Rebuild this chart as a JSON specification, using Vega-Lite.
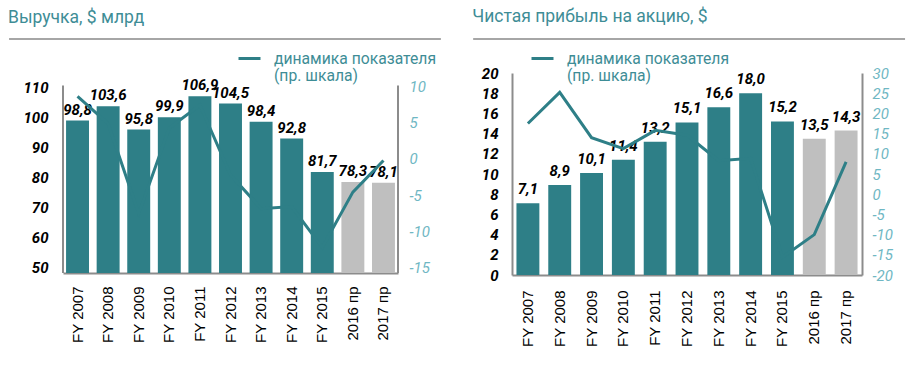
{
  "$schema": "https://vega.github.io/schema/vega-lite/v6.json",
  "padding": {"left": 8, "top": 8, "right": 9, "bottom": 0},
  "config": {
    "locale": {"number": {"decimal": ",", "thousands": " ", "grouping": [3], "currency": ["", ""], "minus": "-"}},
    "view": {"stroke": null},
    "font": "Roboto",
    "concat": {"spacing": 30},
    "axis": {"grid": false, "ticks": false, "tickSize": 0, "domainColor": "#8c8c8c", "domainWidth": 2, "labelOverlap": false}
  },
  "resolve": {"scale": {"stroke": "independent"}, "legend": {"stroke": "independent"}},
  "datasets": {
    "rev": [
      {"year": "FY 2007", "value": 98.8, "growth": 8.7, "kind": "факт", "s": "динамика"},
      {"year": "FY 2008", "value": 103.6, "growth": 4.9, "kind": "факт", "s": "динамика"},
      {"year": "FY 2009", "value": 95.8, "growth": -7.6, "kind": "факт", "s": "динамика"},
      {"year": "FY 2010", "value": 99.9, "growth": 4.3, "kind": "факт", "s": "динамика"},
      {"year": "FY 2011", "value": 106.9, "growth": 7.5, "kind": "факт", "s": "динамика"},
      {"year": "FY 2012", "value": 104.5, "growth": -2.2, "kind": "факт", "s": "динамика"},
      {"year": "FY 2013", "value": 98.4, "growth": -6.9, "kind": "факт", "s": "динамика"},
      {"year": "FY 2014", "value": 92.8, "growth": -6.6, "kind": "факт", "s": "динамика"},
      {"year": "FY 2015", "value": 81.7, "growth": -12.3, "kind": "факт", "s": "динамика"},
      {"year": "2016 пр", "value": 78.3, "growth": -4.6, "kind": "прогноз", "s": "динамика"},
      {"year": "2017 пр", "value": 78.1, "growth": -0.2, "kind": "прогноз", "s": "динамика"}
    ],
    "eps": [
      {"year": "FY 2007", "value": 7.1, "growth": 17.5, "kind": "факт", "s": "динамика"},
      {"year": "FY 2008", "value": 8.9, "growth": 25.2, "kind": "факт", "s": "динамика"},
      {"year": "FY 2009", "value": 10.1, "growth": 14.0, "kind": "факт", "s": "динамика"},
      {"year": "FY 2010", "value": 11.4, "growth": 11.3, "kind": "факт", "s": "динамика"},
      {"year": "FY 2011", "value": 13.2, "growth": 15.8, "kind": "факт", "s": "динамика"},
      {"year": "FY 2012", "value": 15.1, "growth": 14.6, "kind": "факт", "s": "динамика"},
      {"year": "FY 2013", "value": 16.6, "growth": 8.3, "kind": "факт", "s": "динамика"},
      {"year": "FY 2014", "value": 18.0, "growth": 8.9, "kind": "факт", "s": "динамика"},
      {"year": "FY 2015", "value": 15.2, "growth": -15.6, "kind": "факт", "s": "динамика"},
      {"year": "2016 пр", "value": 13.5, "growth": -10.0, "kind": "прогноз", "s": "динамика"},
      {"year": "2017 пр", "value": 14.3, "growth": 8.0, "kind": "прогноз", "s": "динамика"}
    ]
  },
  "hconcat": [
    {
      "width": 335, "height": 200,
      "title": {"text": "Выручка, $ млрд", "anchor": "start", "frame": "bounds", "fontSize": 17.5, "font": "Roboto", "fontWeight": "normal", "color": "#3e8d96", "offset": 12},
      "layer": [
        {
          "layer": [
            {
              "data": {"values": [{"a": -0.161, "b": 1.128, "h": 126}]},
              "mark": {"type": "rule", "color": "#a6a6a6", "strokeWidth": 2},
              "encoding": {
                "x": {"field": "a", "type": "quantitative", "scale": {"domain": [0, 1], "nice": false, "zero": false}, "axis": null},
                "x2": {"field": "b"},
                "y": {"field": "h", "type": "quantitative", "scale": {"domain": [48, 114.667], "nice": false, "zero": false}, "axis": null}
              }
            },
            {
              "data": {"values": [{"a": 0, "lo": 48, "hi": 110.5}, {"a": 1, "lo": 48, "hi": 110.5}]},
              "mark": {"type": "rule", "color": "#8c8c8c", "strokeWidth": 2},
              "encoding": {
                "x": {"field": "a", "type": "quantitative", "axis": null},
                "y": {"field": "lo", "type": "quantitative", "axis": null},
                "y2": {"field": "hi"}
              }
            }
          ]
        },
        {
          "data": {"name": "rev"},
          "layer": [
            {
              "layer": [
                {
                  "mark": {"type": "bar", "clip": true},
                  "encoding": {
                    "x": {"field": "year", "type": "nominal", "sort": null, "scale": {"paddingInner": 0.25, "paddingOuter": 0.1}, "axis": {"orient": "bottom", "title": null, "labelAngle": -90, "labelFont": "Liberation Sans", "labelFontSize": 15, "labelColor": "#000", "labelPadding": 13}},
                    "y": {"field": "value", "type": "quantitative", "scale": {"domain": [48, 114.667], "nice": false, "zero": false}, "axis": {"orient": "left", "title": null, "domain": false, "labelOverlap": false, "values": [50, 60, 70, 80, 90, 100, 110], "labelFont": "Roboto", "labelFontSize": 15, "labelFontStyle": "italic", "labelFontWeight": "bold", "labelColor": "#000", "labelPadding": 15}},
                    "fill": {"field": "kind", "type": "nominal", "scale": {"domain": ["факт", "прогноз"], "range": ["#2e7f87", "#bfbfbf"]}, "legend": null}
                  }
                },
                {
                  "mark": {"type": "text", "baseline": "alphabetic", "dy": -6, "fontSize": 15, "fontStyle": "italic", "fontWeight": "bold", "color": "#000", "font": "Roboto"},
                  "encoding": {
                    "x": {"field": "year", "type": "nominal", "sort": null, "axis": {"orient": "bottom", "title": null, "labelAngle": -90, "labelFont": "Liberation Sans", "labelFontSize": 15, "labelColor": "#000", "labelPadding": 13}},
                    "y": {"field": "value", "type": "quantitative", "axis": {"orient": "left", "title": null, "domain": false, "labelOverlap": false, "values": [50, 60, 70, 80, 90, 100, 110], "labelFont": "Roboto", "labelFontSize": 15, "labelFontStyle": "italic", "labelFontWeight": "bold", "labelColor": "#000", "labelPadding": 15}},
                    "text": {"field": "value", "type": "quantitative", "format": ".1f"}
                  }
                }
              ]
            },
            {
              "mark": {"type": "line", "strokeWidth": 3},
              "encoding": {
                "x": {"field": "year", "type": "nominal", "sort": null, "axis": {"orient": "bottom", "title": null, "labelAngle": -90, "labelFont": "Liberation Sans", "labelFontSize": 15, "labelColor": "#000", "labelPadding": 13}},
                "y": {"field": "growth", "type": "quantitative", "scale": {"domain": [-15.833, 11.944], "nice": false, "zero": false}, "axis": {"orient": "right", "title": null, "domain": false, "labelOverlap": false, "values": [-15, -10, -5, 0, 5, 10], "labelFont": "Roboto", "labelFontSize": 15, "labelFontStyle": "italic", "labelColor": "#6fb7c3", "labelPadding": 11}},
                "stroke": {"field": "s", "type": "nominal", "scale": {"range": ["#2e7f87"]}, "legend": {"orient": "none", "legendX": 174, "legendY": -27, "title": null, "padding": 0, "symbolType": "stroke", "symbolSize": 484, "symbolStrokeWidth": 3, "labelOffset": 12, "labelFont": "Roboto", "labelFontSize": 15.7, "labelColor": "#3e8d96", "labelLimit": 400, "labelExpr": "['динамика показателя', '(пр. шкала)']"}}
              }
            }
          ],
          "resolve": {"scale": {"y": "independent"}}
        }
      ],
      "resolve": {"scale": {"x": "independent", "y": "independent"}}
    },
    {
      "width": 350, "height": 202,
      "title": {"text": "Чистая прибыль на акцию, $", "anchor": "start", "frame": "bounds", "fontSize": 17.5, "font": "Roboto", "fontWeight": "normal", "color": "#3e8d96", "offset": 12},
      "layer": [
        {
          "data": {"values": [{"a": -0.111, "b": 1.123, "h": 23.37}]},
          "mark": {"type": "rule", "color": "#a6a6a6", "strokeWidth": 2},
          "encoding": {
            "x": {"field": "a", "type": "quantitative", "scale": {"domain": [0, 1], "nice": false, "zero": false}, "axis": null},
            "x2": {"field": "b"},
            "y": {"field": "h", "type": "quantitative", "scale": {"domain": [0, 20], "nice": false, "zero": false}, "axis": null}
          }
        },
        {
          "data": {"name": "eps"},
          "layer": [
            {
              "layer": [
                {
                  "mark": {"type": "bar", "clip": true},
                  "encoding": {
                    "x": {"field": "year", "type": "nominal", "sort": null, "scale": {"paddingInner": 0.28, "paddingOuter": 0.14}, "axis": {"orient": "bottom", "title": null, "labelAngle": -90, "labelFont": "Liberation Sans", "labelFontSize": 15, "labelColor": "#000", "labelPadding": 15}},
                    "y": {"field": "value", "type": "quantitative", "scale": {"domain": [0, 20], "nice": false, "zero": false}, "axis": {"orient": "left", "title": null, "labelOverlap": false, "values": [0, 2, 4, 6, 8, 10, 12, 14, 16, 18, 20], "labelFont": "Roboto", "labelFontSize": 15, "labelFontStyle": "italic", "labelFontWeight": "bold", "labelColor": "#000", "labelPadding": 14}},
                    "fill": {"field": "kind", "type": "nominal", "scale": {"domain": ["факт", "прогноз"], "range": ["#2e7f87", "#bfbfbf"]}, "legend": null}
                  }
                },
                {
                  "mark": {"type": "text", "baseline": "alphabetic", "dy": -9, "fontSize": 15, "fontStyle": "italic", "fontWeight": "bold", "color": "#000", "font": "Roboto"},
                  "encoding": {
                    "x": {"field": "year", "type": "nominal", "sort": null, "axis": {"orient": "bottom", "title": null, "labelAngle": -90, "labelFont": "Liberation Sans", "labelFontSize": 15, "labelColor": "#000", "labelPadding": 15}},
                    "y": {"field": "value", "type": "quantitative", "axis": {"orient": "left", "title": null, "labelOverlap": false, "values": [0, 2, 4, 6, 8, 10, 12, 14, 16, 18, 20], "labelFont": "Roboto", "labelFontSize": 15, "labelFontStyle": "italic", "labelFontWeight": "bold", "labelColor": "#000", "labelPadding": 14}},
                    "text": {"field": "value", "type": "quantitative", "format": ".1f"}
                  }
                }
              ]
            },
            {
              "mark": {"type": "line", "strokeWidth": 3},
              "encoding": {
                "x": {"field": "year", "type": "nominal", "sort": null, "axis": {"orient": "bottom", "title": null, "labelAngle": -90, "labelFont": "Liberation Sans", "labelFontSize": 15, "labelColor": "#000", "labelPadding": 15}},
                "y": {"field": "growth", "type": "quantitative", "scale": {"domain": [-20, 30], "nice": false, "zero": false}, "axis": {"orient": "right", "title": null, "labelOverlap": false, "values": [-20, -15, -10, -5, 0, 5, 10, 15, 20, 25, 30], "labelFont": "Roboto", "labelFontSize": 15, "labelFontStyle": "italic", "labelColor": "#6fb7c3", "labelPadding": 10}},
                "stroke": {"field": "s", "type": "nominal", "scale": {"range": ["#2e7f87"]}, "legend": {"orient": "none", "legendX": 18, "legendY": -27, "title": null, "padding": 0, "symbolType": "stroke", "symbolSize": 484, "symbolStrokeWidth": 3, "labelOffset": 12, "labelFont": "Roboto", "labelFontSize": 15.7, "labelColor": "#3e8d96", "labelLimit": 400, "labelExpr": "['динамика показателя', '(пр. шкала)']"}}
              }
            }
          ],
          "resolve": {"scale": {"y": "independent"}}
        }
      ],
      "resolve": {"scale": {"x": "independent", "y": "independent"}}
    }
  ]
}
